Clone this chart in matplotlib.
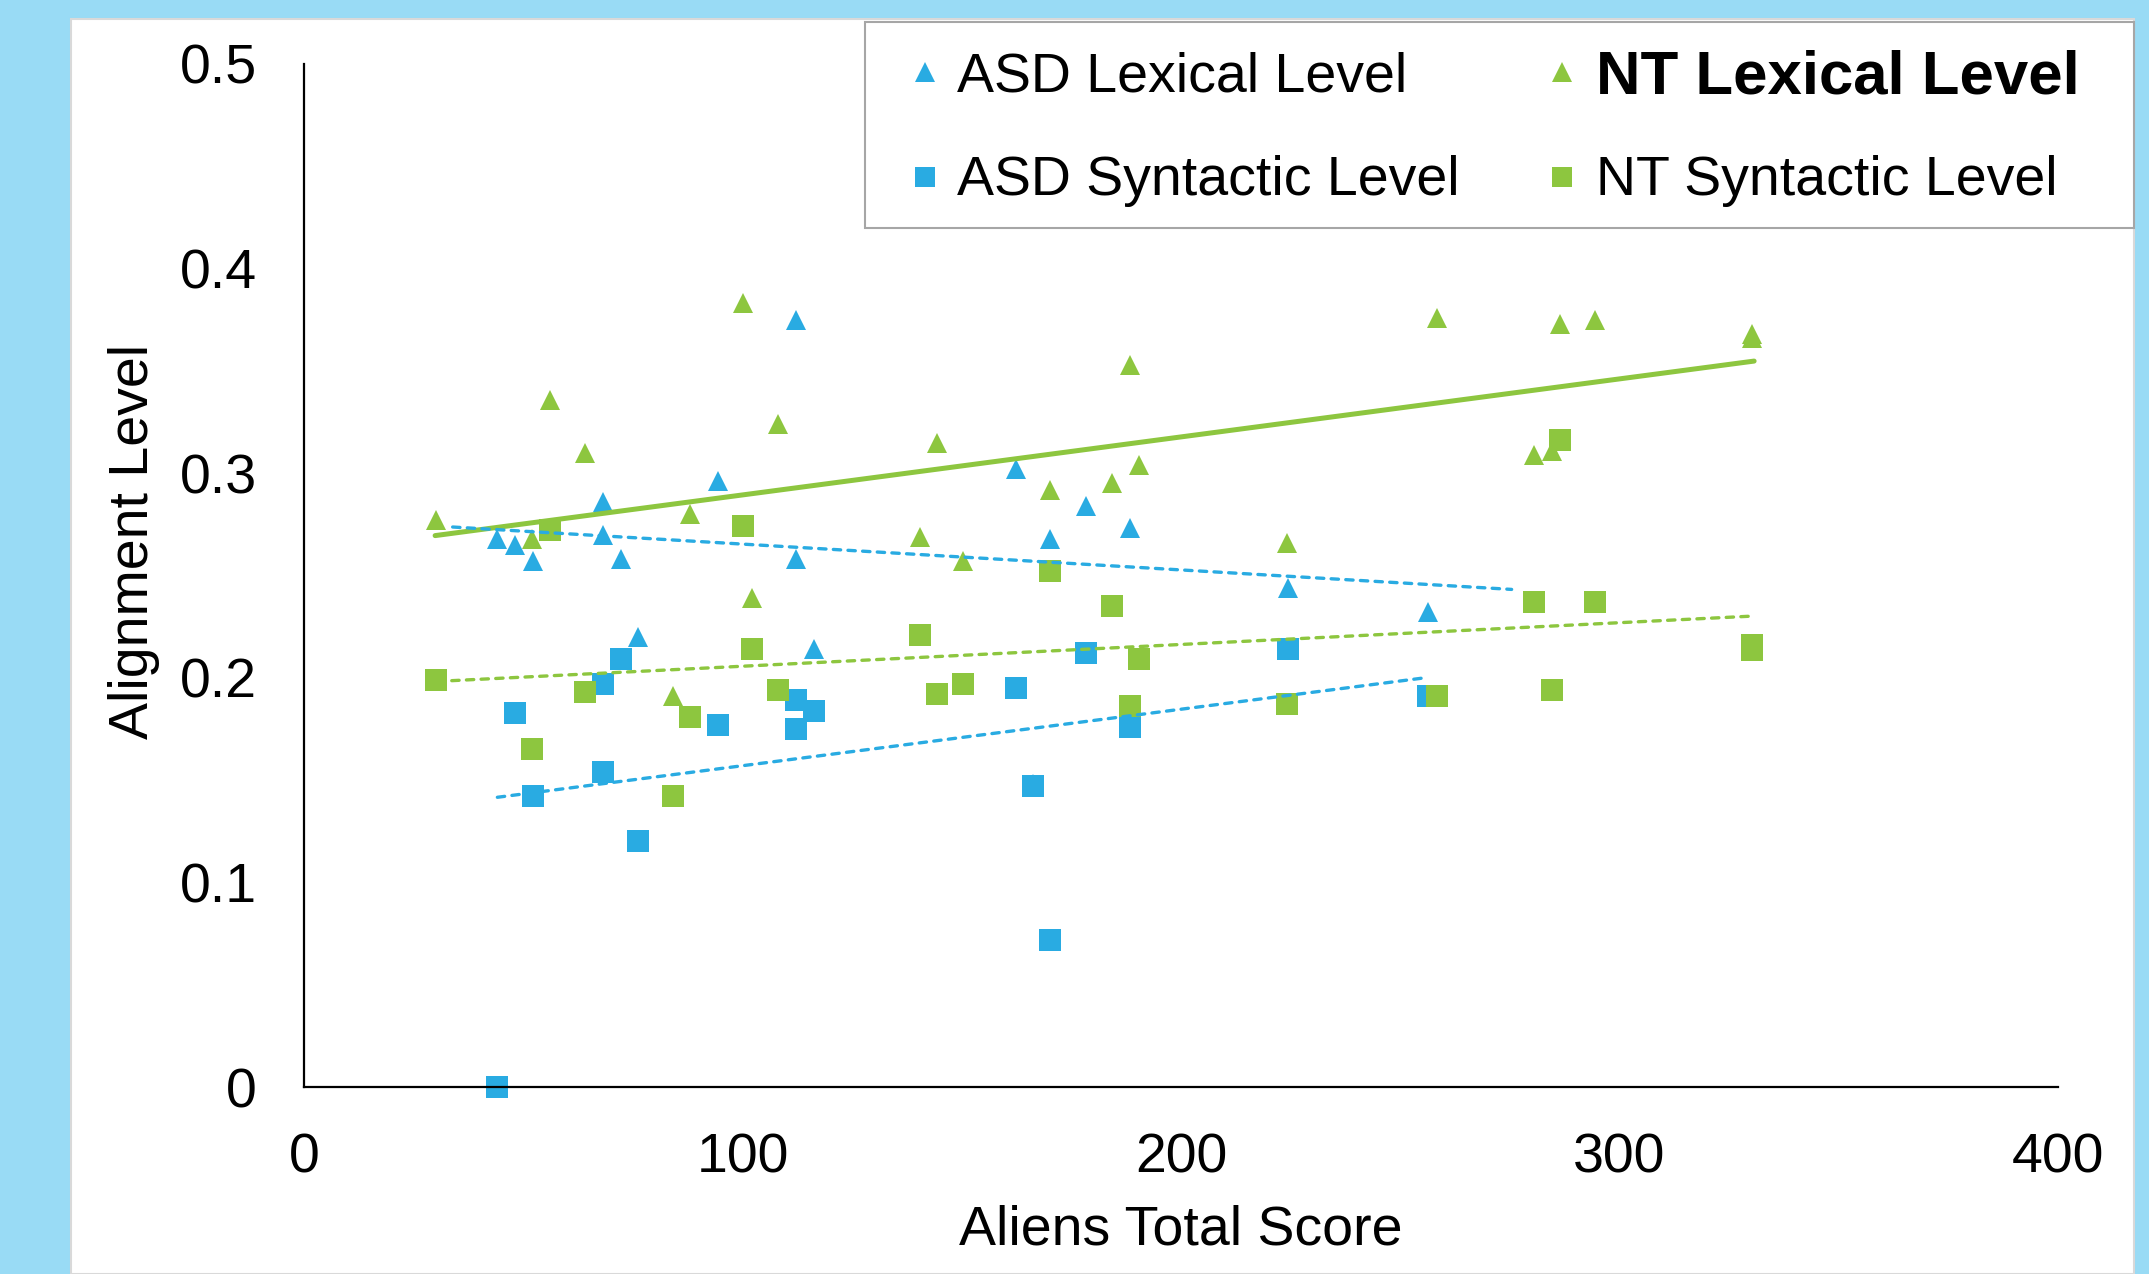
import matplotlib
matplotlib.use('Agg')
import matplotlib.pyplot as plt
from matplotlib.patches import Rectangle
from matplotlib.lines import Line2D
from matplotlib.ticker import FuncFormatter

plt.rcParams['font.family'] = ['Liberation Sans', 'DejaVu Sans']

# ASD group: Aliens total score and alignment levels
asd_score = [44.1, 48.2, 52.2, 68.2, 68.2, 72.2, 76.2, 94.3, 112.1, 112.1,
             116.4, 162.3, 166.2, 170.1, 178.3, 188.4, 224.3, 256.3]
asd_lexical = [0.268, 0.265, 0.257, 0.286, 0.270, 0.258, 0.220, 0.296, 0.375, 0.258,
               0.214, 0.302, 0.148, 0.268, 0.284, 0.273, 0.244, 0.232]
asd_syntactic = [0.0, 0.183, 0.142, 0.197, 0.154, 0.209, 0.120, 0.177, 0.189, 0.175,
                 0.184, 0.195, 0.147, 0.072, 0.212, 0.176, 0.214, 0.191]

# NT group
nt_score = [30.0, 52.1, 56.2, 64.1, 84.1, 88.1, 100.1, 102.1, 108.1, 140.4, 144.4, 150.2,
            170.2, 184.3, 188.3, 190.5, 224.2, 258.4, 280.5, 284.7, 286.4, 294.3, 330.3, 330.3]
nt_lexical = [0.277, 0.268, 0.336, 0.310, 0.191, 0.280, 0.383, 0.239, 0.324, 0.269, 0.315, 0.257,
              0.292, 0.295, 0.353, 0.304, 0.266, 0.376, 0.309, 0.311, 0.373, 0.375, 0.368, 0.366]
nt_syntactic = [0.199, 0.165, 0.272, 0.193, 0.142, 0.181, 0.274, 0.214, 0.194, 0.221, 0.192, 0.197,
                0.252, 0.235, 0.186, 0.209, 0.187, 0.191, 0.237, 0.194, 0.316, 0.237, 0.216, 0.2135]

# trend lines (end points)
asd_lex_fit_x, asd_lex_fit_y = [33.9, 275.4], [0.2737, 0.2432]
nt_lex_fit_x, nt_lex_fit_y = [29.9, 330.7], [0.2695, 0.3548]
asd_syn_fit_x, asd_syn_fit_y = [44.1, 254.9], [0.1416, 0.1998]
nt_syn_fit_x, nt_syn_fit_y = [33.7, 330.7], [0.1986, 0.2302]

x_ticks = [0, 100, 200, 300, 400]
y_ticks = [0, 0.1, 0.2, 0.3, 0.4, 0.5]

BLUE = '#29ABE2'
GREEN = '#8DC63F'
W, H = 2149, 1274


def fx(px):
    return px / W


def fy(py):
    return 1 - py / H


fig = plt.figure(figsize=(W / 100, H / 100), dpi=100)
fig.patch.set_facecolor('#99DBF5')

# white panel
fig.add_artist(Rectangle((fx(71), 0), fx(2134) - fx(71), fy(19), transform=fig.transFigure,
                         facecolor='white', edgecolor='#D9D9D9', lw=1.5, zorder=-1))

ax = fig.add_axes([fx(304), fy(1087), fx(2058) - fx(304), fy(64) - fy(1087)])
ax.patch.set_alpha(0)

ms_tri, ms_sq = 15, 15.8
ax.plot(asd_score, asd_lexical, ls='none', marker='^', ms=ms_tri, mew=0, color=BLUE, clip_on=False)
ax.plot(nt_score, nt_lexical, ls='none', marker='^', ms=ms_tri, mew=0, color=GREEN, clip_on=False)
ax.plot(asd_score, asd_syntactic, ls='none', marker='s', ms=ms_sq, mew=0, color=BLUE, clip_on=False)
ax.plot(nt_score, nt_syntactic, ls='none', marker='s', ms=ms_sq, mew=0, color=GREEN, clip_on=False)

ax.plot(nt_lex_fit_x, nt_lex_fit_y, color=GREEN, lw=3.6, solid_capstyle='round')
for fx_, fy_, c in [(asd_lex_fit_x, asd_lex_fit_y, BLUE), (asd_syn_fit_x, asd_syn_fit_y, BLUE),
                    (nt_syn_fit_x, nt_syn_fit_y, GREEN)]:
    ax.plot(fx_, fy_, color=c, lw=2.4, dashes=(2.2, 2.2), dash_capstyle='round')

ax.set_xlim(0, 400)
ax.set_ylim(0, 0.5)
ax.set_xticks(x_ticks)
ax.set_yticks(y_ticks)
ax.yaxis.set_major_formatter(FuncFormatter(lambda v, p: f'{v:g}'))
ax.tick_params(axis='both', length=0, labelsize=40)
ax.tick_params(axis='y', pad=34)
ax.tick_params(axis='x', pad=33)
for s in ['top', 'right']:
    ax.spines[s].set_visible(False)
for s in ['left', 'bottom']:
    ax.spines[s].set_linewidth(1.6)
    ax.spines[s].set_color('black')

ax.set_xlabel('Aliens Total Score', fontsize=40)
ax.set_ylabel('Alignment Level', fontsize=40)
ax.xaxis.set_label_coords(0.5, -0.1149)
ax.yaxis.set_label_coords(-0.0821, 0.5337)

# legend box
fig.add_artist(Rectangle((fx(865), fy(228)), fx(2134) - fx(865), fy(22) - fy(228),
                         transform=fig.transFigure, facecolor='white', edgecolor='#A6A6A6',
                         lw=1.5, zorder=5))
entries = [
    (925, 72, 957, 91, '^', BLUE, 'ASD Lexical Level', 'normal', 40),
    (925, 177, 957, 195, 's', BLUE, 'ASD Syntactic Level', 'normal', 40),
    (1562, 72, 1596, 93, '^', GREEN, 'NT Lexical Level', 'bold', 44.5),
    (1562, 177, 1596, 195, 's', GREEN, 'NT Syntactic Level', 'normal', 40),
]
for mx, my, tx, ty, mk, c, label, weight, size in entries:
    fig.add_artist(Line2D([fx(mx)], [fy(my)], marker=mk, ms=ms_tri if mk == '^' else ms_sq - 1,
                          mew=0, color=c, ls='none', transform=fig.transFigure, zorder=6))
    fig.text(fx(tx), fy(ty), label, fontsize=size, fontweight=weight, ha='left', va='baseline',
             zorder=6)

fig.savefig('out.png', dpi=100, facecolor=fig.get_facecolor())
